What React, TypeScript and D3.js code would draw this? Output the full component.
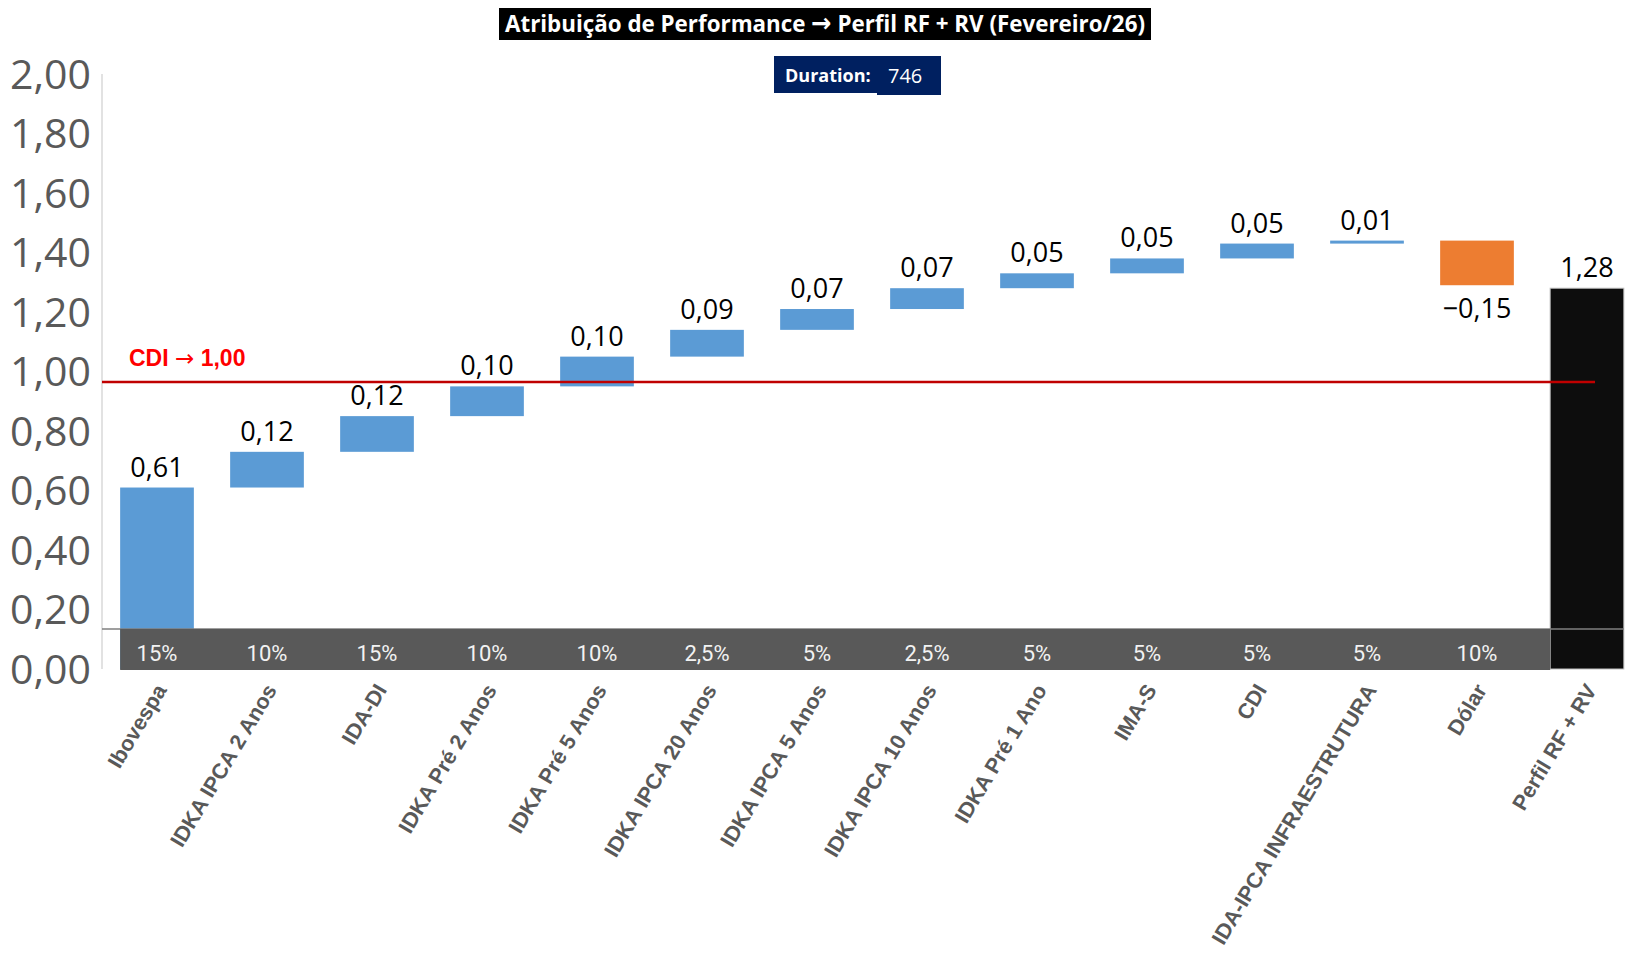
import React from 'react';
import * as d3 from 'd3';

const categories = [
  'Ibovespa', 'IDKA IPCA 2 Anos', 'IDA-DI', 'IDKA Pré 2 Anos', 'IDKA Pré 5 Anos',
  'IDKA IPCA 20 Anos', 'IDKA IPCA 5 Anos', 'IDKA IPCA 10 Anos', 'IDKA Pré 1 Ano',
  'IMA-S', 'CDI', 'IDA-IPCA INFRAESTRUTURA', 'Dólar',
];
const contributions = [0.61, 0.12, 0.12, 0.10, 0.10, 0.09, 0.07, 0.07, 0.05, 0.05, 0.05, 0.01, -0.15];
const weights = [15, 10, 15, 10, 10, 2.5, 5, 2.5, 5, 5, 5, 5, 10];
const totalLabel = 'Perfil RF + RV';
const totalValue = 1.28;
const cdiLine = 0.965;
const yTicks = [0, 0.2, 0.4, 0.6, 0.8, 1.0, 1.2, 1.4, 1.6, 1.8, 2.0];
const duration = 746;

const W = 1651;
const H = 959;
const fmt = (v: number) => d3.format('.2f')(v).replace('.', ',');
const fmtW = (v: number) => String(v).replace('.', ',') + '%';

const App: React.FC = () => {
  const allCats = [...categories, totalLabel];
  const x = d3.scaleBand<string>().domain(allCats).range([102, 1642]).paddingInner(0.33).paddingOuter(0.165);
  const y = d3.scaleLinear().domain([0, 2]).range([669, 74]);

  // running totals for the waterfall
  let run = 0;
  const steps = contributions.map((v, i) => {
    const start = run;
    run += v;
    return { cat: categories[i], v, start, end: run, w: weights[i] };
  });

  const bw = x.bandwidth();
  const bandLeft = x(categories[0])!;
  const bandRight = x(totalLabel)!;
  const sans = 'Open Sans, Noto Sans, sans-serif';

  return (
    <svg width={W} height={H} style={{ position: 'absolute', left: 0, top: 0, background: '#fff' }}>
      {/* title */}
      <rect x={499} y={8} width={652} height={32} fill="#000" />
      <text x={825} y={32} textAnchor="middle" fill="#fff" fontFamily={sans} fontWeight="bold" fontSize={24}
        textLength={640} lengthAdjust="spacingAndGlyphs">
        Atribuição de Performance <tspan fontFamily="DejaVu Sans" fontSize={26}>→</tspan> Perfil RF + RV (Fevereiro/26)
      </text>

      {/* duration box */}
      <rect x={774} y={56} width={104} height={37} fill="#002060" />
      <rect x={877} y={56} width={64} height={39} fill="#002060" />
      <text x={785} y={82} fill="#fff" fontFamily={sans} fontWeight="bold" fontSize={18}>Duration:</text>
      <text x={888} y={83} fill="#fff" fontFamily={sans} fontSize={20}>{duration}</text>

      {/* y axis */}
      <line x1={102} x2={102} y1={y(2)} y2={y(0)} stroke="#d9d9d9" strokeWidth={1.5} />
      {yTicks.map(t => (
        <text key={t} x={91} y={y(t)} dy="0.36em" textAnchor="end" fill="#595959" fontFamily={sans} fontSize={41}>
          {fmt(t)}
        </text>
      ))}

      {/* bars */}
      {steps.map(s => {
        const top = y(Math.max(s.start, s.end));
        const bot = y(Math.min(s.start, s.end));
        const neg = s.v < 0;
        return (
          <g key={s.cat}>
            <rect x={x(s.cat)} y={top} width={bw} height={Math.max(bot - top, 3)}
              fill={neg ? '#ed7d31' : '#5b9bd5'} />
            <text x={x(s.cat)! + bw / 2} y={neg ? bot + 33 : top - 11} textAnchor="middle" fill="#000"
              fontFamily={sans} fontSize={27}>
              {fmt(s.v)}
            </text>
          </g>
        );
      })}
      <rect x={x(totalLabel)} y={y(totalValue)} width={bw} height={y(0) - y(totalValue)} fill="#0d0d0d"
        stroke="#bfbfbf" strokeWidth={1} />
      <text x={x(totalLabel)! + bw / 2} y={y(totalValue) - 11} textAnchor="middle" fill="#000"
        fontFamily={sans} fontSize={27}>
        {fmt(totalValue)}
      </text>

      {/* weight strip */}
      <line x1={102} x2={bandRight + bw} y1={629} y2={629} stroke="#7f7f7f" strokeWidth={1.5} />
      <rect x={bandLeft} y={629} width={bandRight - bandLeft} height={41} fill="#595959" />
      {steps.map(s => (
        <text key={s.cat} x={x(s.cat)! + bw / 2} y={653} dy="0.35em" textAnchor="middle" fill="#f2f2f2"
          fontFamily="Roboto, sans-serif" fontSize={22}>
          {fmtW(s.w)}
        </text>
      ))}

      {/* CDI reference */}
      <line x1={102} x2={1595} y1={y(cdiLine)} y2={y(cdiLine)} stroke="#c00000" strokeWidth={2.5} />
      <text x={129} y={366} fill="#ff0000" fontFamily="Liberation Sans, Arial, sans-serif" fontWeight="bold" fontSize={23}>
        CDI <tspan fontFamily="DejaVu Sans" fontWeight="normal">→</tspan> 1,00
      </text>

      {/* category labels */}
      {allCats.map(c => (
        <text key={c} transform={`translate(${x(c)! + bw / 2 + 4},${686}) rotate(-59)`} textAnchor="end"
          dy="0.35em" fill="#595959" fontFamily="Liberation Sans, Arial, sans-serif" fontWeight="bold" fontSize={21.5}>
          {c}
        </text>
      ))}
    </svg>
  );
};

export default App;
